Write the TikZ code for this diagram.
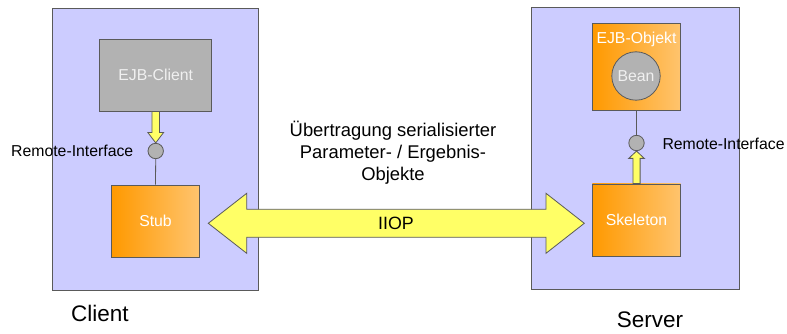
\documentclass[tikz,border=0pt]{standalone}
\usepackage{fontspec}
\setmainfont{Liberation Sans}
\usetikzlibrary{calc}
\definecolor{lav}{HTML}{CCCCFF}
\definecolor{edge}{HTML}{5A5A5A}
\definecolor{ygel}{HTML}{FFFF66}
\definecolor{grayf}{HTML}{B2B2B2}
\definecolor{ordark}{HTML}{FF9900}
\definecolor{orlight}{HTML}{FFC46E}
\definecolor{ltext}{HTML}{F0F0F0}
\tikzset{
  env/.style={draw=edge, fill=lav, line width=0.8pt, minimum width=#1, inner sep=0pt},
  orbox/.style={draw=edge, line width=0.8pt, left color=ordark, right color=orlight, text=white, font=\fontsize{15.8}{18}\selectfont, inner sep=0pt},
  graybox/.style={draw=edge, fill=grayf, line width=0.8pt, text=ltext, font=\fontsize{15.8}{18}\selectfont, inner sep=0pt},
  iface/.style={circle, draw=edge, fill=grayf, line width=0.8pt, minimum size=15.4pt, inner sep=0pt},
  lbl/.style={font=\fontsize{15.8}{18}\selectfont, inner sep=0pt},
  big/.style={font=\fontsize{22.5}{26}\selectfont, inner sep=0pt},
  fat/.style={draw=edge, fill=ygel, line width=0.8pt, line join=miter},
  conn/.style={draw=edge, line width=0.8pt}
}
\begin{document}
\begin{tikzpicture}[x=1pt,y=-1pt]
\useasboundingbox (0,0) rectangle (787,334);
% environments
\node[env=206pt, minimum height=282pt] (client) at (155,149) {};
\node[env=207.3pt, minimum height=282pt] (server) at (635.3,148.3) {};
% client side
\node[graybox, minimum width=112pt, minimum height=71.7pt] (ejbc) at (155.7,75.2) {EJB-Client};
\node[orbox, minimum width=87.6pt, minimum height=72.3pt] (stub) at (155.5,221.2) {Stub};
\node[iface] (ric) at (155.7,151) {};
\node[lbl, anchor=west] (ril) at (11,151) {Remote-Interface};
\draw[conn] (ric.south) -- (stub.north);
\draw[fat] ($(ejbc.south)+(-3.8,0)$) -- ($(ejbc.south)+(3.8,0)$) -- ($(ric.north)+(3.8,-10.3)$) -- ($(ric.north)+(7.8,-10.3)$) -- (ric.north) -- ($(ric.north)+(-7.8,-10.3)$) -- ($(ric.north)+(-3.8,-10.3)$) -- cycle;
% server side
\node[orbox, minimum width=88.4pt, minimum height=86.7pt] (ejbo) at (636.5,66.7) {};
\node[text=white, font=\fontsize{15.8}{18}\selectfont, inner sep=0pt] (ejbot) at (636.5,39) {EJB-Objekt};
\node[circle, draw=edge, fill=grayf, line width=0.8pt, minimum size=48.4pt, inner sep=0pt, text=ltext, font=\fontsize{15.8}{18}\selectfont] (bean) at (636,76) {Bean};
\node[orbox, minimum width=88.4pt, minimum height=72.7pt] (skel) at (636.5,220.3) {Skeleton};
\node[iface] (ris) at (636.5,143) {};
\node[lbl, anchor=west] (rir) at (662.3,144) {Remote-Interface};
\draw[conn] (ejbo.south) -- (ris.north);
\draw[fat] ($(skel.north)+(-3.6,0)$) -- ($(skel.north)+(3.6,0)$) -- ($(ris.south)+(3.6,7.3)$) -- ($(ris.south)+(7.8,7.3)$) -- (ris.south) -- ($(ris.south)+(-7.8,7.3)$) -- ($(ris.south)+(-3.6,7.3)$) -- cycle;
% IIOP double arrow
\coordinate (lt) at (208.3,223.3);
\coordinate (rt) at (584.3,223.3);
\draw[fat] (lt) -- (246.7,193.3) -- (246.7,209.3) -- (546,209.3) -- (546,193.3) -- (rt) -- (546,253.3) -- (546,237.3) -- (246.7,237.3) -- (246.7,253.3) -- cycle;
\node[font=\fontsize{17.8}{20}\selectfont, inner sep=0pt] (iiop) at (396,223.3) {IIOP};
\node[font=\fontsize{18.4}{22}\selectfont, align=center, inner sep=0pt] (trans) at (393,153) {Übertragung serialisierter\\Parameter- / Ergebnis-\\Objekte};
% labels
\node[big] (cl) at (100,313) {Client};
\node[big] (sv) at (650,320) {Server};
\end{tikzpicture}
\end{document}
